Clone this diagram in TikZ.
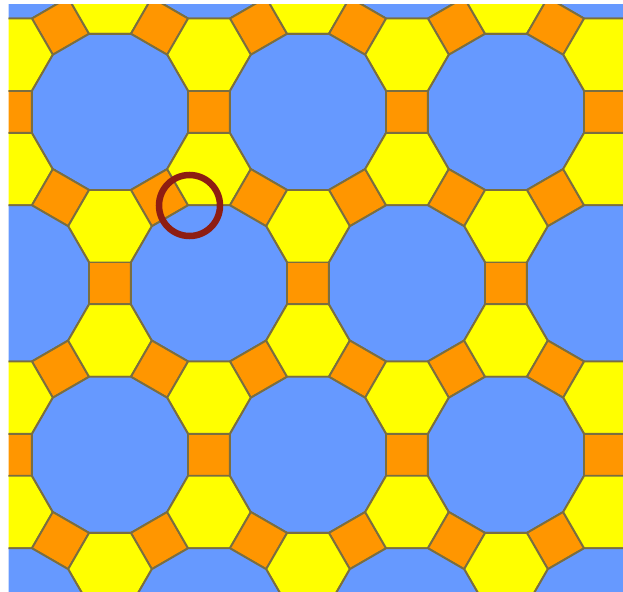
\documentclass[tikz,border=0pt]{standalone}
\usepackage{tikz}
\usetikzlibrary{calc}
\definecolor{cDodec}{HTML}{6699FF}
\definecolor{cHex}{HTML}{FFFF00}
\definecolor{cSq}{HTML}{FF9600}
\definecolor{cEdge}{HTML}{7A6E40}
\definecolor{cMark}{HTML}{8E1D12}
\tikzset{
  tile/.style={draw=cEdge, line width=0.38mm, line join=round},
  dodec/.style={tile, fill=cDodec},
  hexa/.style={tile, fill=cHex},
  sqr/.style={tile, fill=cSq},
  ring/.style={draw=cMark, line width=1.3mm}
}
% edge length a (px), dodecagon circumradius, half square diagonal
\newcommand{\EdgeA}{41.84}
\newcommand{\DodecR}{80.83}
\newcommand{\SqR}{29.59}
\begin{document}
\begin{tikzpicture}[x=0.2mm, y=-0.2mm]
\useasboundingbox (0,0) rectangle (623,591);
\begin{scope}
\clip (8.5,4) rectangle (623,591);
\foreach \j in {-1,...,4}
 \foreach \i in {-3,...,4} {
  \pgfmathsetmacro\cx{110+198*\i+99*\j}
  \pgfmathsetmacro\cy{111.9+171.47*\j}
  \begin{scope}[shift={(\cx,\cy)}]
   % dodecagon
   \filldraw[dodec] (15:\DodecR) \foreach \k in {1,...,11}{ -- (15+30*\k:\DodecR)} -- cycle;
   % squares towards three neighbours
   \foreach \t/\sx/\sy in {0/99/0, 60/49.5/85.735, 120/-49.5/85.735}
     \filldraw[sqr, shift={(\sx,\sy)}] (\t+45:\SqR) -- (\t+135:\SqR) -- (\t+225:\SqR) -- (\t+315:\SqR) -- cycle;
   % hexagons in the two triangles
   \foreach \hx/\hy in {99/57.157, 0/114.313}
     \filldraw[hexa, shift={(\hx,\hy)}] (0:\EdgeA) \foreach \k in {1,...,5}{ -- (60*\k:\EdgeA)} -- cycle;
  \end{scope}
 }
\end{scope}
% marked vertex
\draw[ring] (189.5,205.5) circle[radius=6.1mm];
\end{tikzpicture}
\end{document}
